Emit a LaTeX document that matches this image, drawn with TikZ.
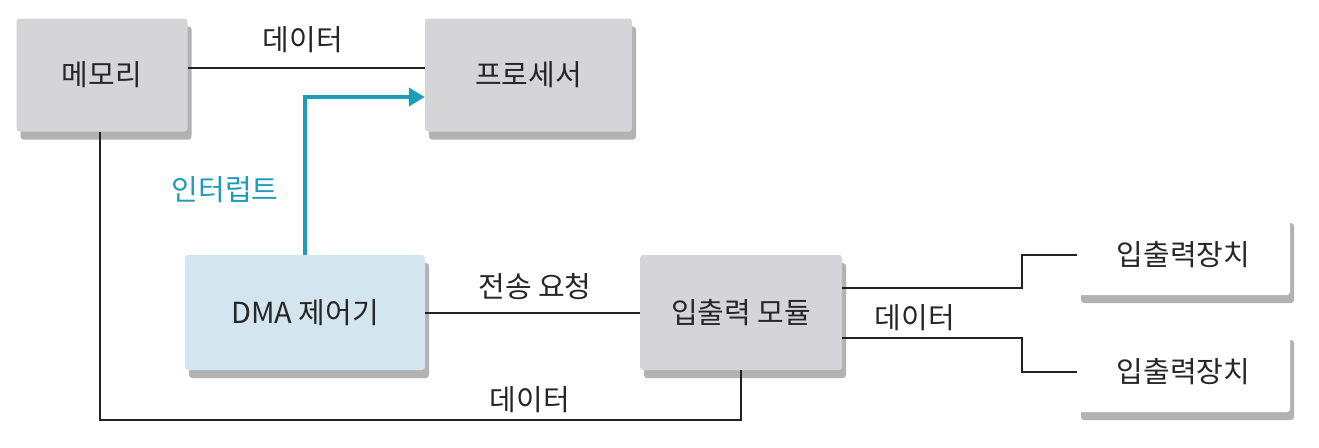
\documentclass[tikz,border=0pt]{standalone}
\usepackage{fontspec}
\setmainfont{Noto Sans CJK KR}
\usetikzlibrary{shadows,arrows.meta}
\definecolor{boxgray}{HTML}{D5D5D7}
\definecolor{dmablue}{HTML}{D3E5EE}
\definecolor{intcyan}{HTML}{1E9DBA}
\definecolor{linec}{HTML}{222222}
\begin{document}
\begin{tikzpicture}[x=1pt,y=-1pt,
  box/.style={rectangle, rounded corners=3pt, draw=none, align=center,
    font=\fontsize{29}{34}\selectfont, text=black!85,
    drop shadow={shadow xshift=4pt, shadow yshift=-8pt, opacity=0.5, fill=black!60}},
  lbl/.style={font=\fontsize{29}{34}\selectfont, text=black!85},
  conn/.style={draw=linec, line width=2pt}
]
\useasboundingbox (0,0) rectangle (1319,447);
\fill[white] (0,0) rectangle (1319,447);

\node[box, fill=boxgray, minimum width=171pt, minimum height=113pt] (mem) at (102,75) {메모리};
\node[box, fill=boxgray, minimum width=207pt, minimum height=113pt] (proc) at (528.5,75) {프로세서};
\node[box, fill=dmablue, minimum width=240pt, minimum height=115pt] (dma) at (305,312.5) {DMA 제어기};
\node[box, fill=boxgray, minimum width=202pt, minimum height=115pt] (io) at (741,312.5) {입출력 모듈};
\node[box, fill=white, minimum width=213pt, minimum height=80pt] (dev1) at (1183.5,255) {입출력장치};
\node[box, fill=white, minimum width=213pt, minimum height=80pt] (dev2) at (1183.5,372) {입출력장치};

\draw[conn] ([yshift=7pt]mem.east) -- ([yshift=7pt]proc.west);
\node[lbl] (l1) at (303,40) {데이터};

\coordinate (bend) at (305,97);
\draw[draw=intcyan, line width=4.5pt, -{Triangle[length=16pt,width=18pt]}] (dma.north) -- (bend) -- (bend -| proc.west);
\node[lbl, text=intcyan] (l2) at (225,190) {인터럽트};

\coordinate (bl) at (100,420);
\draw[conn] (mem.south -| bl) -- (bl) -- (bl -| io.south) -- (io.south);
\node[lbl] (l3) at (530,400) {데이터};

\draw[conn] (dma.east) -- (io.west);
\node[lbl] (l4) at (535,287) {전송 요청};

\draw[conn] ([yshift=25pt]io.east) -- ++(180,0) |- (dev1.west);
\draw[conn] ([yshift=-25pt]io.east) -- ++(180,0) |- (dev2.west);
\node[lbl] (l5) at (915,318) {데이터};
\end{tikzpicture}
\end{document}
